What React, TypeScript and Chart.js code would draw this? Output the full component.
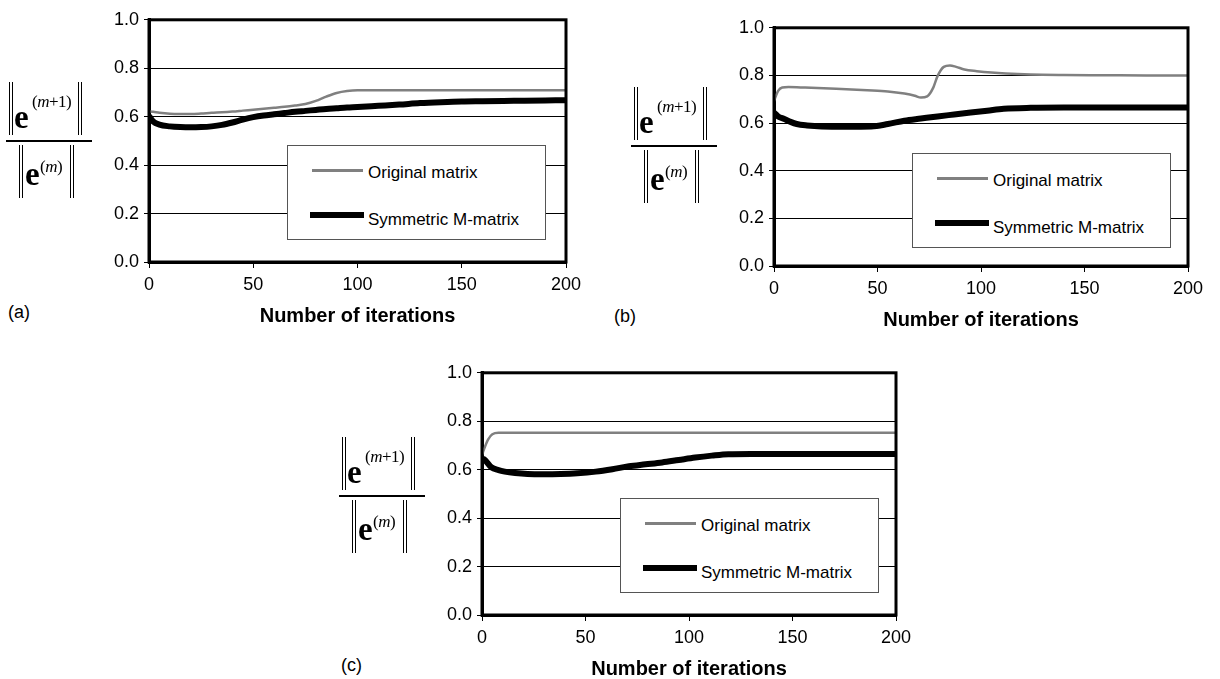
import React, { useEffect, useRef } from "react";
import { Chart, registerables } from "chart.js";

Chart.register(...registerables);

// ---------- data ----------
const SERIES_LABELS = ["Original matrix", "Symmetric M-matrix"];
const PANEL_LABELS = ["(a)", "(b)", "(c)"];
const X_TITLE = "Number of iterations";
const X_TICKS = [0, 50, 100, 150, 200];
const Y_TICKS = [0, 0.2, 0.4, 0.6, 0.8, 1.0];

// (a)
const ITER_A = [0, 2, 5, 10, 15, 20, 25, 30, 35, 40, 45, 50, 55, 60, 65, 70, 75, 80, 85, 90, 95, 100, 110, 120, 130, 140, 150, 160, 170, 180, 190, 200];
const ORIG_A = [0.622, 0.62, 0.616, 0.612, 0.611, 0.611, 0.613, 0.616, 0.618, 0.621, 0.625, 0.629, 0.633, 0.637, 0.641, 0.646, 0.652, 0.665, 0.683, 0.698, 0.706, 0.709, 0.709, 0.709, 0.709, 0.709, 0.709, 0.709, 0.709, 0.709, 0.709, 0.709];
const SYM_A = [0.603, 0.58, 0.567, 0.56, 0.557, 0.556, 0.557, 0.56, 0.566, 0.576, 0.588, 0.598, 0.605, 0.61, 0.615, 0.62, 0.624, 0.628, 0.632, 0.635, 0.638, 0.64, 0.645, 0.65, 0.656, 0.66, 0.663, 0.664, 0.665, 0.666, 0.667, 0.668];

// (b)
const ITER_B_ORIG = [0, 2, 4, 7, 15, 30, 45, 55, 63, 68, 71, 74, 77, 79, 82, 85, 88, 92, 98, 105, 112, 124, 140, 160, 180, 200];
const ORIG_B = [0.693, 0.735, 0.749, 0.751, 0.749, 0.744, 0.738, 0.733, 0.724, 0.715, 0.707, 0.712, 0.75, 0.797, 0.836, 0.842, 0.836, 0.825, 0.818, 0.812, 0.808, 0.804, 0.802, 0.801, 0.8, 0.8];
const ITER_B_SYM = [0, 2, 5, 8, 11, 16, 23, 35, 47, 55, 63, 71, 79, 87, 95, 103, 111, 124, 140, 160, 180, 200];
const SYM_B = [0.644, 0.628, 0.617, 0.605, 0.596, 0.59, 0.586, 0.585, 0.586, 0.596, 0.61, 0.619, 0.628, 0.636, 0.644, 0.652, 0.66, 0.664, 0.665, 0.665, 0.665, 0.665];

// (c)
const ITER_C_ORIG = [0, 1, 3, 5, 8, 12, 20, 40, 60, 80, 100, 120, 140, 160, 180, 200];
const ORIG_C = [0.66, 0.685, 0.725, 0.746, 0.752, 0.752, 0.752, 0.752, 0.752, 0.752, 0.752, 0.752, 0.752, 0.752, 0.752, 0.752];
const ITER_C_SYM = [0, 1, 4.5, 8, 11, 16, 22, 30, 38, 46, 55, 63, 71, 79, 87, 95, 103, 111, 119, 130, 150, 170, 200];
const SYM_C = [0.645, 0.643, 0.61, 0.598, 0.592, 0.586, 0.582, 0.581, 0.582, 0.585, 0.592, 0.602, 0.614, 0.622, 0.63, 0.64, 0.65, 0.658, 0.664, 0.665, 0.665, 0.665, 0.665];

const PANEL_DATA = [
  { iterOrig: ITER_A, orig: ORIG_A, iterSym: ITER_A, sym: SYM_A },
  { iterOrig: ITER_B_ORIG, orig: ORIG_B, iterSym: ITER_B_SYM, sym: SYM_B },
  { iterOrig: ITER_C_ORIG, orig: ORIG_C, iterSym: ITER_C_SYM, sym: SYM_C },
];

// ---------- layout (plot-area rectangles, fraction line, panel label) ----------
const PANEL_BOX = [
  { left: 149, top: 16, right: 566, bottom: 262, fracY: 141, labelX: 8 },
  { left: 774, top: 24, right: 1188, bottom: 266, fracY: 146, labelX: 614 },
  { left: 482, top: 369, right: 896, bottom: 615, fracY: 496, labelX: 341 },
];

const PAD_L = 70;
const PAD_T = 12;
const PAD_R = 25;
const X_AXIS_H = 64;

const SANS = "'Liberation Sans', Arial, sans-serif";
const SERIF = "'Liberation Serif', 'Times New Roman', serif";
const GRAY = "#808080";

const framePlugin = {
  id: "frame",
  afterDatasetsDraw(chart: any) {
    const { ctx, chartArea } = chart;
    const { left, top, right, bottom } = chartArea;
    ctx.save();
    ctx.strokeStyle = "#000";
    ctx.lineWidth = 3;
    ctx.strokeRect(left, top, right - left, bottom - top);
    ctx.restore();
  },
};

function Bars({ x, y, h }: { x: number; y: number; h: number }) {
  return (
    <div
      style={{
        position: "absolute",
        left: x,
        top: y,
        width: 2,
        height: h,
        borderLeft: "1.5px solid #000",
        borderRight: "1.5px solid #000",
      }}
    />
  );
}

function Fraction({ L, Y }: { L: number; Y: number }) {
  const eStyle: React.CSSProperties = {
    position: "absolute",
    fontFamily: SERIF,
    fontWeight: "bold",
    fontSize: 33,
    lineHeight: "33px",
    whiteSpace: "nowrap",
  };
  const supStyle: React.CSSProperties = {
    position: "absolute",
    fontFamily: SERIF,
    fontSize: 17,
    lineHeight: "17px",
    whiteSpace: "nowrap",
    letterSpacing: -0.5,
  };
  return (
    <>
      <Bars x={L + 3} y={Y - 59} h={53} />
      <span style={{ ...eStyle, left: L + 8, top: Y - 40 }}>e</span>
      <span style={{ ...supStyle, left: L + 26, top: Y - 48 }}>
        (<i>m</i>+1)
      </span>
      <Bars x={L + 72} y={Y - 59} h={53} />
      <div style={{ position: "absolute", left: L, top: Y - 0.75, width: 86, height: 1.5, background: "#000" }} />
      <Bars x={L + 13} y={Y + 4} h={53} />
      <span style={{ ...eStyle, left: L + 19, top: Y + 17 }}>e</span>
      <span style={{ ...supStyle, left: L + 34, top: Y + 17 }}>
        (<i>m</i>)
      </span>
      <Bars x={L + 64} y={Y + 4} h={53} />
    </>
  );
}

function Legend({ x, y }: { x: number; y: number }) {
  const textStyle: React.CSSProperties = {
    position: "absolute",
    left: 80,
    fontFamily: SANS,
    fontSize: 17,
    lineHeight: "17px",
    whiteSpace: "nowrap",
    color: "#000",
  };
  return (
    <div
      style={{
        position: "absolute",
        left: x,
        top: y,
        width: 259,
        height: 95,
        boxSizing: "border-box",
        border: "1px solid #555",
        background: "#fff",
      }}
    >
      <div style={{ position: "absolute", left: 24, top: 23, width: 51, height: 2.5, background: GRAY }} />
      <span style={{ ...textStyle, top: 18 }}>{SERIES_LABELS[0]}</span>
      <div style={{ position: "absolute", left: 22, top: 66, width: 54, height: 6, background: "#000" }} />
      <span style={{ ...textStyle, top: 65 }}>{SERIES_LABELS[1]}</span>
    </div>
  );
}

function Panel({ idx }: { idx: number }) {
  const ref = useRef<HTMLCanvasElement | null>(null);
  const box = PANEL_BOX[idx];
  const d = PANEL_DATA[idx];
  const plotW = box.right - box.left;
  const plotH = box.bottom - box.top;
  const cw = plotW + PAD_L + PAD_R;
  const ch = plotH + PAD_T + X_AXIS_H;

  useEffect(() => {
    if (!ref.current) return;
    const chart = new Chart(ref.current, {
      type: "line",
      data: {
        datasets: [
          {
            label: SERIES_LABELS[0],
            data: d.iterOrig.map((x, i) => ({ x, y: d.orig[i] })),
            borderColor: GRAY,
            borderWidth: 2.5,
            pointRadius: 0,
            cubicInterpolationMode: "monotone",
            fill: false,
          },
          {
            label: SERIES_LABELS[1],
            data: d.iterSym.map((x, i) => ({ x, y: d.sym[i] })),
            borderColor: "#000",
            borderWidth: 6,
            pointRadius: 0,
            cubicInterpolationMode: "monotone",
            fill: false,
          },
        ],
      },
      options: {
        animation: false,
        responsive: false,
        maintainAspectRatio: false,
        layout: { padding: { left: 0, top: PAD_T, right: PAD_R, bottom: 0 } },
        plugins: { legend: { display: false }, tooltip: { enabled: false }, title: { display: false } },
        scales: {
          x: {
            type: "linear",
            min: 0,
            max: 200,
            afterBuildTicks: (s: any) => {
              s.ticks = X_TICKS.map((v) => ({ value: v }));
            },
            afterFit: (s: any) => {
              s.height = X_AXIS_H;
            },
            grid: { display: true, drawOnChartArea: false, drawTicks: true, tickLength: 6, color: "#000", lineWidth: 1 },
            border: { display: true, color: "#000", width: 3 },
            ticks: { color: "#000", font: { family: SANS, size: 18 }, padding: 6, maxRotation: 0 },
            title: {
              display: true,
              text: X_TITLE,
              color: "#000",
              font: { family: SANS, size: 20, weight: "bold", lineHeight: 1 },
              padding: { top: 0, bottom: 0 },
            },
          },
          y: {
            type: "linear",
            min: 0,
            max: 1,
            afterBuildTicks: (s: any) => {
              s.ticks = Y_TICKS.map((v) => ({ value: v }));
            },
            afterFit: (s: any) => {
              s.width = PAD_L;
            },
            grid: { color: "#000", lineWidth: 1, drawTicks: true, tickLength: 5 },
            border: { display: true, color: "#000", width: 3 },
            ticks: {
              color: "#000",
              font: { family: SANS, size: 18 },
              padding: 5,
              callback: (v: any) => Number(v).toFixed(1),
            },
          },
        },
      },
      plugins: [framePlugin],
    } as any);
    return () => chart.destroy();
  }, [idx]);

  return (
    <>
      <canvas
        ref={ref}
        width={cw}
        height={ch}
        style={{ position: "absolute", left: box.left - PAD_L, top: box.top - PAD_T, width: cw, height: ch }}
      />
      <Legend x={box.left + 138} y={box.top + 129} />
      <Fraction L={box.left - 143} Y={box.fracY} />
      <span
        style={{
          position: "absolute",
          left: box.labelX,
          top: box.bottom + 41,
          fontFamily: SANS,
          fontSize: 18,
          lineHeight: "18px",
          color: "#000",
        }}
      >
        {PANEL_LABELS[idx]}
      </span>
    </>
  );
}

export default function App() {
  return (
    <div
      style={{
        position: "absolute",
        left: 0,
        top: 0,
        width: 1220,
        height: 679,
        overflow: "hidden",
        background: "#fff",
      }}
    >
      <Panel idx={0} />
      <Panel idx={1} />
      <Panel idx={2} />
    </div>
  );
}
